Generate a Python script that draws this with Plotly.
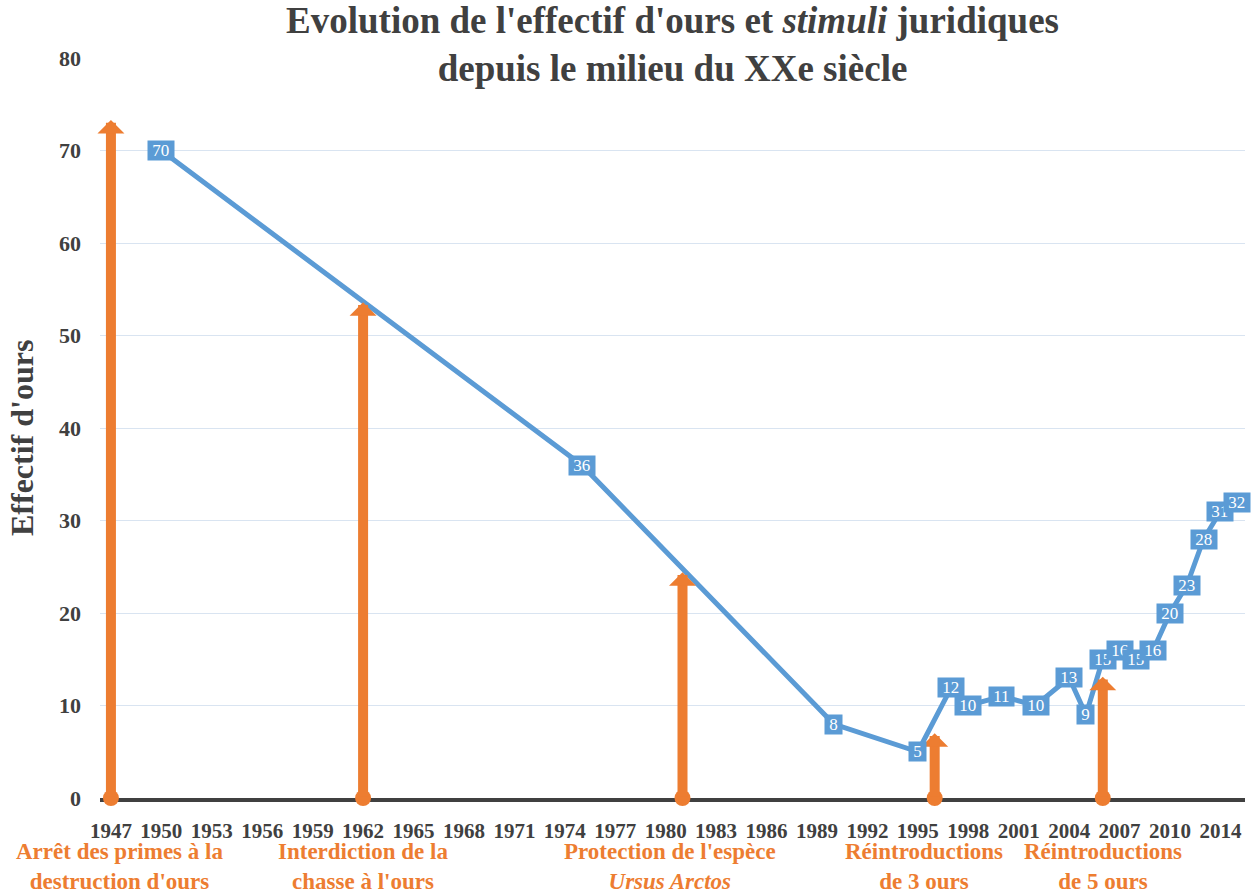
import plotly.graph_objects as go

# ---- data ----
years = [1950, 1975, 1990, 1995, 1997, 1998, 2000, 2002, 2004, 2005,
         2006, 2007, 2008, 2009, 2010, 2011, 2012, 2013, 2014]
bears = [70, 36, 8, 5, 12, 10, 11, 10, 13, 9,
         15, 16, 15, 16, 20, 23, 28, 31, 32]

event_years = [1947, 1962, 1981, 1996, 2006]
event_heights = [73.3, 53.6, 24.4, 7.0, 13.1]
event_labels = ["Arrêt des primes à la<br>destruction d'ours",
                "Interdiction de la<br>chasse à l'ours",
                "Protection de l'espèce<br><i>Ursus Arctos</i>",
                "Réintroductions<br>de 3 ours",
                "Réintroductions<br>de 5 ours"]

tick_labels = ["1947", "1950", "1953", "1956", "1959", "1962", "1965", "1968",
               "1971", "1974", "1977", "1980", "1983", "1986", "1989", "1992",
               "1995", "1998", "2001", "2004", "2007", "2010", "2014"]
y_ticks = [0, 10, 20, 30, 40, 50, 60, 70, 80]

# ---- style ----
BLUE = "#5b9bd5"
ORANGE = "#ed7d31"
DARK = "#404040"
FONT = "Liberation Serif"
label_xshift = [9, 0, -13, -11, 0]
NB = "\u00a0"

tick_pos = [1947 + 3 * i for i in range(len(tick_labels))]

fig = go.Figure()

fig.add_trace(go.Scatter(
    x=years, y=bears, mode="lines",
    line=dict(color=BLUE, width=5),
    hoverinfo="skip", showlegend=False,
))

fig.add_trace(go.Scatter(
    x=event_years, y=[0] * len(event_years), mode="markers",
    marker=dict(color=ORANGE, size=16),
    cliponaxis=False, hoverinfo="skip", showlegend=False,
))

annotations = []
# arrows
for yr, h in zip(event_years, event_heights):
    annotations.append(dict(
        x=yr, y=h, xref="x", yref="y",
        ax=yr, ay=0, axref="x", ayref="y",
        text="", showarrow=True,
        arrowcolor=ORANGE, arrowwidth=10, arrowhead=1, arrowsize=0.45,
        standoff=0, startstandoff=0,
    ))
# data labels
for yr, v in zip(years, bears):
    annotations.append(dict(
        x=yr, y=v, xref="x", yref="y", text=NB + str(v) + NB, showarrow=False,
        bgcolor=BLUE, borderpad=0,
        font=dict(family=FONT, size=17, color="white"),
    ))
# event labels
for yr, lab, xs in zip(event_years, event_labels, label_xshift):
    annotations.append(dict(
        x=yr, y=0, xref="x", yref="paper", yanchor="top", yshift=-39,
        xshift=xs, text=lab, showarrow=False, align="center",
        font=dict(family=FONT, size=23, color=ORANGE, weight="bold"),
    ))
# y axis title
annotations.append(dict(
    x=0, y=0.4865, xref="paper", yref="paper", xshift=-78,
    text="Effectif d'ours", textangle=-90, showarrow=False,
    xanchor="center", yanchor="middle",
    font=dict(family=FONT, size=32, color=DARK, weight="bold"),
))

fig.update_layout(
    width=1253, height=895,
    margin=dict(l=100, r=8, t=58, b=97),
    paper_bgcolor="white", plot_bgcolor="white",
    title=dict(
        text="Evolution de l'effectif d'ours et <i>stimuli</i> juridiques<br>depuis le milieu du XXe siècle",
        x=0.5, xref="paper", xanchor="center",
        y=0.963, yanchor="top",
        font=dict(family=FONT, size=37, color=DARK, weight="bold"),
    ),
    xaxis=dict(
        range=[1946.35, 2014.46],
        tickmode="array", tickvals=tick_pos, ticktext=tick_labels,
        showgrid=False, zeroline=False,
        showline=True, linecolor=DARK, linewidth=4,
        ticks="", ticklabelstandoff=11,
        tickfont=dict(family=FONT, size=21, color=DARK, weight="bold"),
        layer="below traces",
    ),
    yaxis=dict(
        range=[0, 80],
        tickmode="array", tickvals=y_ticks,
        showgrid=True, gridcolor="#d9e4f1", gridwidth=1.2,
        zeroline=False, showline=False,
        ticks="", ticklabelstandoff=18,
        tickfont=dict(family=FONT, size=22, color=DARK, weight="bold"),
    ),
    annotations=annotations,
)

fig.write_html("out.html", config={"displayModeBar": False},
               post_script="document.body.style.margin='0px';")
